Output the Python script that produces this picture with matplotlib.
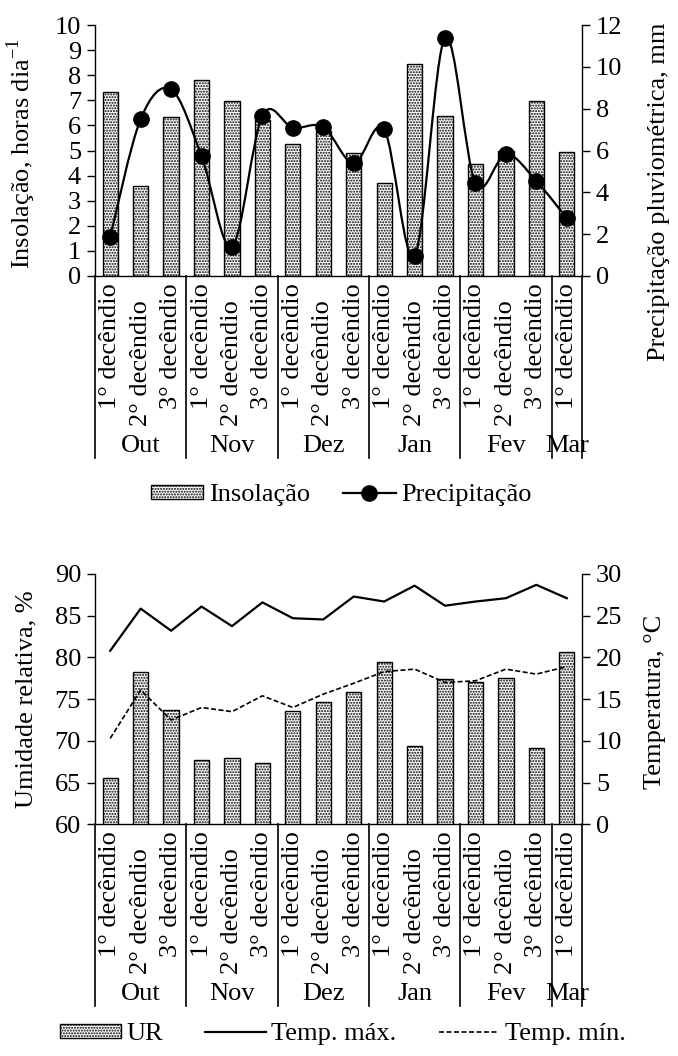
import numpy as np
import matplotlib.pyplot as plt
import matplotlib.transforms as mtransforms
from matplotlib.path import Path
from matplotlib.patches import PathPatch
from matplotlib.lines import Line2D

plt.rcParams['font.family'] = ['Liberation Serif', 'DejaVu Serif']
plt.rcParams['mathtext.fontset'] = 'custom'
plt.rcParams['mathtext.rm'] = 'Liberation Serif'
plt.rcParams['font.size'] = 19
plt.rcParams['hatch.linewidth'] = 1.0

decendios = ['1° decêndio', '2° decêndio', '3° decêndio'] * 5 + ['1° decêndio']
meses = ['Out', 'Nov', 'Dez', 'Jan', 'Fev', 'Mar']
meses_n = [3, 3, 3, 3, 3, 1]

insolacao = [7.34, 3.59, 6.35, 7.81, 6.97, 6.2, 5.26, 5.78,
             4.91, 3.72, 8.45, 6.39, 4.46, 5.0, 6.97, 4.95]
precipitacao = [1.88, 7.5, 8.92, 5.74, 1.4, 7.66, 7.09, 7.12,
                5.39, 7.01, 0.96, 11.39, 4.43, 5.83, 4.54, 2.76]

ur = [65.5, 78.2, 73.7, 67.75, 67.95, 67.4, 73.55, 74.6,
      75.9, 79.5, 69.4, 77.4, 77.1, 77.5, 69.15, 80.6]
temp_max = [20.8, 25.85, 23.2, 26.1, 23.75, 26.6, 24.7, 24.55,
            27.3, 26.7, 28.6, 26.2, 26.7, 27.1, 28.7, 27.1]
temp_min = [10.3, 16.1, 12.5, 14.0, 13.5, 15.4, 14.0, 15.6,
            16.9, 18.3, 18.6, 17.0, 17.2, 18.6, 18.0, 18.9]

FIG_W, FIG_H = 678, 1056


def smooth_path(x, y):
    # Excel-like smoothed line (Catmull-Rom as cubic Bezier)
    pts = np.column_stack([x, y]).astype(float)
    n = len(pts)
    verts = [pts[0]]
    codes = [Path.MOVETO]
    for i in range(n - 1):
        p0 = pts[i - 1] if i > 0 else pts[i]
        p1 = pts[i]
        p2 = pts[i + 1]
        p3 = pts[i + 2] if i + 2 < n else pts[i + 1]
        verts += [p1 + (p2 - p0) / 6, p2 - (p3 - p1) / 6, p2]
        codes += [Path.CURVE4] * 3
    return Path(verts, codes)


def style_axes(ax, ax2):
    for s in ['top', 'right']:
        ax.spines[s].set_visible(False)
    for s in ['top', 'left', 'bottom']:
        ax2.spines[s].set_visible(False)
    for a in (ax, ax2):
        a.tick_params(axis='y', direction='out', length=6, width=1, pad=4)
        a.set_xticks([])
    ax.spines['left'].set_linewidth(1)
    ax.spines['bottom'].set_linewidth(1)
    ax2.spines['right'].set_linewidth(1)
    ax.set_xlim(-0.5, len(decendios) - 0.5)


def category_axis(ax):
    ax_h = ax.get_position().height * FIG_H
    trans = mtransforms.blended_transform_factory(ax.transData, ax.transAxes)
    for i, lab in enumerate(decendios):
        off = 24 if lab.startswith('2') else 7
        ax.text(i, -off / ax_h, lab, rotation=90, ha='center', va='top',
                transform=trans)
    edges = np.concatenate([[0], np.cumsum(meses_n)]) - 0.5
    for e in edges:
        ax.plot([e, e], [0, -182 / ax_h], color='black', lw=1.2,
                transform=trans, clip_on=False)
    for k, m in enumerate(meses):
        c = (edges[k] + edges[k + 1]) / 2
        ax.text(c, -167 / ax_h, m, ha='center', va='center_baseline',
                transform=trans)


fig = plt.figure(figsize=(FIG_W / 100, FIG_H / 100), dpi=100)
x = np.arange(len(decendios))

# top chart
ax1 = fig.add_axes([95 / FIG_W, 1 - 276 / FIG_H, 487 / FIG_W, 251 / FIG_H])
ax1b = ax1.twinx()
bars1 = ax1.bar(x, insolacao, width=0.5, color='white', edgecolor='black',
                hatch='......', lw=1.0)
ax1.set_ylim(0, 10)
ax1.set_yticks(range(0, 11))
ax1.set_ylabel('Insolação, horas dia$^{-1}$')
ax1.yaxis.set_label_coords(-0.118, 0.49)
ax1b.add_patch(PathPatch(smooth_path(x, precipitacao), fill=False,
                         edgecolor='black', lw=1.6))
ax1b.plot(x, precipitacao, 'o', color='black', ms=11)
ax1b.set_ylim(0, 12)
ax1b.set_yticks(range(0, 13, 2))
ax1b.set_ylabel('Precipitação pluviométrica, mm')
ax1b.yaxis.set_label_coords(1.136, 0.335)
style_axes(ax1, ax1b)
category_axis(ax1)

fig.legend([bars1, Line2D([], [], color='black', lw=1.6, marker='o', ms=11)],
           ['Insolação', 'Precipitação'], loc='center',
           bbox_to_anchor=(341 / FIG_W, 1 - 495 / FIG_H), ncol=2, frameon=False,
           handlelength=2.0, handleheight=0.45, handletextpad=0.2,
           columnspacing=1.25, borderpad=0, borderaxespad=0)

# bottom chart
ax2 = fig.add_axes([95 / FIG_W, 1 - 824.3 / FIG_H, 487 / FIG_W, 250.3 / FIG_H])
ax2b = ax2.twinx()
bars2 = ax2.bar(x, ur, width=0.5, color='white', edgecolor='black',
                hatch='......', lw=1.0)
ax2.set_ylim(60, 90)
ax2.set_yticks(range(60, 91, 5))
ax2.set_ylabel('Umidade relativa, %')
ax2.yaxis.set_label_coords(-0.118, 0.5)
ax2b.plot(x, temp_max, color='black', lw=1.6)
ax2b.plot(x, temp_min, color='black', lw=1.2, ls=(0, (3, 1.5)))
ax2b.set_ylim(0, 30)
ax2b.set_yticks(range(0, 31, 5))
ax2b.set_ylabel('Temperatura, °C')
ax2b.yaxis.set_label_coords(1.127, 0.49)
style_axes(ax2, ax2b)
category_axis(ax2)

fig.legend([bars2, Line2D([], [], color='black', lw=1.6),
            Line2D([], [], color='black', lw=1.2, ls=(0, (3, 1.5)))],
           ['UR', 'Temp. máx.', 'Temp. mín.'], loc='center',
           bbox_to_anchor=(343 / FIG_W, 1 - 1034 / FIG_H), ncol=3, frameon=False,
           handlelength=2.3, handleheight=0.45, handletextpad=0.2,
           columnspacing=1.6, borderpad=0, borderaxespad=0)

fig.savefig('out.png', dpi=100)
